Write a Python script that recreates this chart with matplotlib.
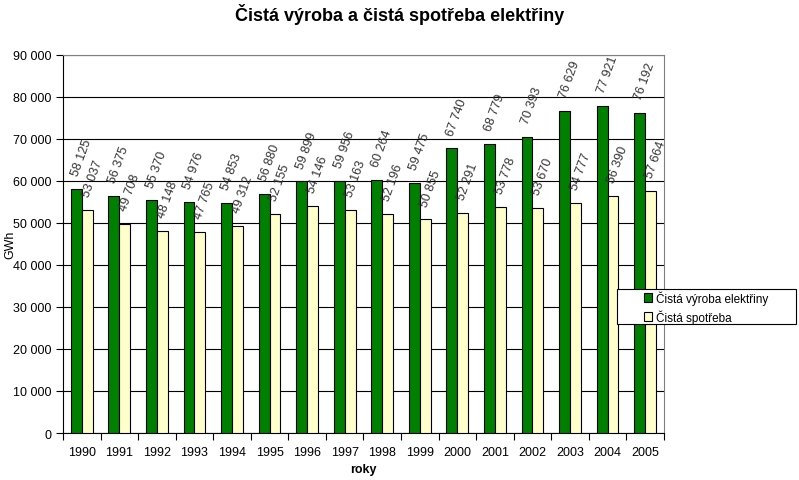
import numpy as np
import matplotlib.pyplot as plt
from matplotlib.ticker import FuncFormatter, FixedLocator
from matplotlib.patches import Rectangle

roky = ['1990', '1991', '1992', '1993', '1994', '1995', '1996', '1997',
        '1998', '1999', '2000', '2001', '2002', '2003', '2004', '2005']
vyroba = [58125, 56375, 55370, 54976, 54853, 56880, 59899, 59956,
          60264, 59475, 67740, 68779, 70393, 76629, 77921, 76192]
spotreba = [53037, 49708, 48148, 47765, 49312, 52155, 54146, 53163,
            52196, 50855, 52291, 53778, 53670, 54777, 56390, 57664]

plt.rcParams['font.family'] = ['Liberation Sans', 'DejaVu Sans']

def fmt(v):
    return '{:,}'.format(int(v)).replace(',', ' ')

fig = plt.figure(figsize=(7.99, 4.81), dpi=100)
ax = fig.add_axes([0.0789, 0.0977, 0.752, 0.786])

x = np.arange(len(roky))
w = 0.29
b1 = ax.bar(x - w / 2, vyroba, w, color='#008000', edgecolor='black', linewidth=0.8,
            label='Čistá výroba elektřiny', zorder=3)
b2 = ax.bar(x + w / 2, spotreba, w, color='#FFFFCC', edgecolor='black', linewidth=0.8,
            label='Čistá spotřeba', zorder=3)

# popisky hodnot nad sloupci
for bars, vals in ((b1, vyroba), (b2, spotreba)):
    for r, v in zip(bars, vals):
        ax.annotate(fmt(v), (r.get_x() + r.get_width() / 2, v), xytext=(-1, 10),
                    textcoords='offset points', rotation=70, rotation_mode='anchor',
                    ha='left', va='center', fontsize=9, color='#333333', zorder=4)

ax.set_xlim(-0.5, len(roky) - 0.5)
ax.set_ylim(0, 90000)
ax.yaxis.set_major_locator(FixedLocator(np.arange(0, 90001, 10000)))
ax.yaxis.set_major_formatter(FuncFormatter(lambda v, p: fmt(v)))
ax.grid(axis='y', color='black', linewidth=0.8, zorder=0)
ax.set_xticks(x)
ax.set_xticklabels(roky)
ax.set_xticks(np.arange(-0.5, len(roky)), minor=True)
ax.tick_params(axis='x', which='major', length=0, pad=9, labelsize=9)
ax.tick_params(axis='x', which='minor', length=5, width=0.8)
ax.tick_params(axis='y', length=5, width=0.8, labelsize=9)

for s in ('top', 'right'):
    ax.spines[s].set_color('#808080')
ax.spines['left'].set_linewidth(0.8)
ax.spines['bottom'].set_linewidth(0.8)

fig.text(0.013, 0.49, 'GWh', rotation=90, ha='center', va='center', fontsize=9)
ax.set_xlabel('roky', fontsize=9, fontweight='bold', labelpad=4)
fig.suptitle('Čistá výroba a čistá spotřeba elektřiny', fontsize=13,
             fontweight='bold', y=0.992)

# ramecek legendy
fig.patches.append(Rectangle((0.772, 0.3243), 0.224, 0.0728, transform=fig.transFigure,
                             facecolor='white', edgecolor='black', linewidth=0.8))
leg = fig.legend(handles=[b1, b2], loc='upper left', bbox_to_anchor=(0.806, 0.395),
                 fontsize=8.5, frameon=False, handlelength=0.7, handleheight=0.7,
                 handletextpad=0.3, borderpad=0, labelspacing=0.4, borderaxespad=0)

fig.savefig('out.png', dpi=100)
